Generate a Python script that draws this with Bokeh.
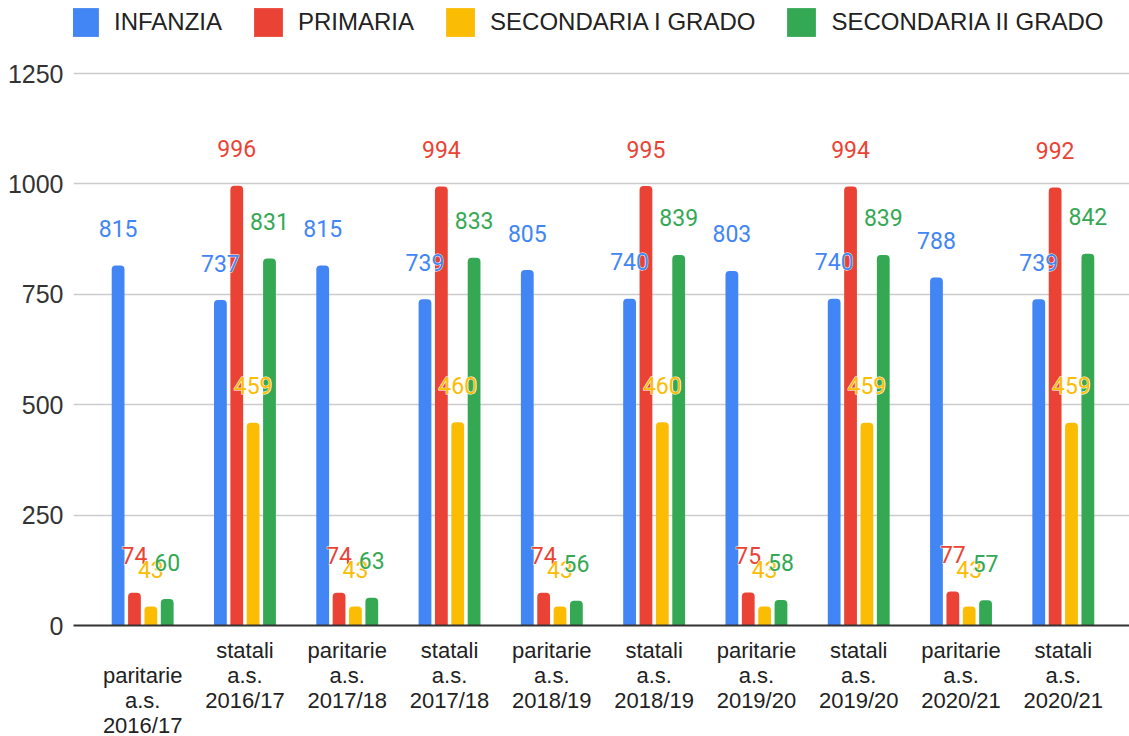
from bokeh.plotting import figure
from bokeh.models import Legend, LegendItem, FixedTicker, Range1d, ColumnDataSource
from bokeh.core.properties import value
from bokeh.embed import file_html
from bokeh.resources import INLINE

categories = ["paritarie a.s. 2016/17", "statali a.s. 2016/17",
              "paritarie a.s. 2017/18", "statali a.s. 2017/18",
              "paritarie a.s. 2018/19", "statali a.s. 2018/19",
              "paritarie a.s. 2019/20", "statali a.s. 2019/20",
              "paritarie a.s. 2020/21", "statali a.s. 2020/21"]
tick_labels = ["\nparitarie\na.s.\n2016/17", "statali\na.s.\n2016/17",
               "paritarie\na.s.\n2017/18", "statali\na.s.\n2017/18",
               "paritarie\na.s.\n2018/19", "statali\na.s.\n2018/19",
               "paritarie\na.s.\n2019/20", "statali\na.s.\n2019/20",
               "paritarie\na.s.\n2020/21", "statali\na.s.\n2020/21"]
series_names = ["INFANZIA", "PRIMARIA", "SECONDARIA I GRADO", "SECONDARIA II GRADO"]
infanzia = [815, 737, 815, 739, 805, 740, 803, 740, 788, 739]
primaria = [74, 996, 74, 994, 74, 995, 75, 994, 77, 992]
secondaria_i = [43, 459, 43, 460, 43, 460, 43, 459, 43, 459]
secondaria_ii = [60, 831, 63, 833, 56, 839, 58, 839, 57, 842]
y_ticks = [0, 250, 500, 750, 1000, 1250]

series = [infanzia, primaria, secondaria_i, secondaria_ii]
colors = ["#4285F4", "#EA4335", "#FBBC04", "#34A853"]
offsets = [-0.24, -0.08, 0.08, 0.24]

FRAME_H = 625          # frame runs from the top of the page to the x axis
PLOT_H = 552           # pixels used by the 0..1250 value span
y_end = y_ticks[-1] * FRAME_H / PLOT_H   # room above 1250 holds the legend

p = figure(frame_width=1056, frame_height=FRAME_H, output_backend="svg",
           toolbar_location=None,
           x_range=Range1d(-0.676, 9.647), y_range=Range1d(0, y_end),
           min_border_left=73, min_border_right=0, min_border_top=0,
           min_border_bottom=0)
p.outline_line_color = None
p.background_fill_color = "white"

idx = list(range(len(categories)))
bar_renderers = []
for vals, col, off in zip(series, colors, offsets):
    src = ColumnDataSource(dict(x=[i + off for i in idx], top=vals,
                                label=[str(v) for v in vals]))
    r = p.vbar(x="x", top="top", bottom=0, width=0.125, source=src,
               fill_color=col, line_color=None, border_radius=(4, 4, 0, 0))
    bar_renderers.append((r, src, col))

for r, src, col in bar_renderers:
    p.text(x="x", y="top", text="label", source=src, y_offset=-37,
           text_align="center", text_baseline="middle",
           text_font=value("Roboto"), text_font_size="23px",
           text_color="white", text_outline_color="white")
    p.text(x="x", y="top", text="label", source=src, y_offset=-37,
           text_align="center", text_baseline="middle",
           text_font=value("Roboto"), text_font_size="23px",
           text_color=col)

# axes
p.xaxis.ticker = FixedTicker(ticks=idx)
p.xaxis.major_label_overrides = {i: lab for i, lab in zip(idx, tick_labels)}
p.xaxis.axis_line_color = "#333333"
p.xaxis.axis_line_width = 2
p.xaxis.major_tick_line_color = None
p.xaxis.minor_tick_line_color = None
p.xaxis.major_label_text_font = "Liberation Sans"
p.xaxis.major_label_text_font_size = "22px"
p.xaxis.major_label_text_color = "#222222"
p.xaxis.major_label_standoff = 6
p.xaxis.major_label_text_line_height = 1.0

p.yaxis.ticker = FixedTicker(ticks=y_ticks)
p.yaxis.axis_line_color = None
p.yaxis.major_tick_line_color = None
p.yaxis.minor_tick_line_color = None
p.yaxis.major_label_text_font = "Liberation Sans"
p.yaxis.major_label_text_font_size = "25px"
p.yaxis.major_label_text_color = "#333333"
p.yaxis.major_label_standoff = 4

p.xgrid.grid_line_color = None
p.ygrid.grid_line_color = "#cccccc"
p.ygrid.grid_line_width = 1.5

legend = Legend(items=[LegendItem(label=n, renderers=[r]) for n, (r, _, _) in zip(series_names, bar_renderers)],
                orientation="horizontal", location=(-7, FRAME_H - 40),
                padding=0, margin=0, spacing=28, label_standoff=12,
                glyph_width=36, glyph_height=36,
                label_text_font="Liberation Sans", label_text_font_size="24px",
                label_text_color="#222222", label_height=36,
                border_line_color=None, background_fill_alpha=0)
p.add_layout(legend, "center")

open("out.html", "w").write(file_html(p, INLINE))
